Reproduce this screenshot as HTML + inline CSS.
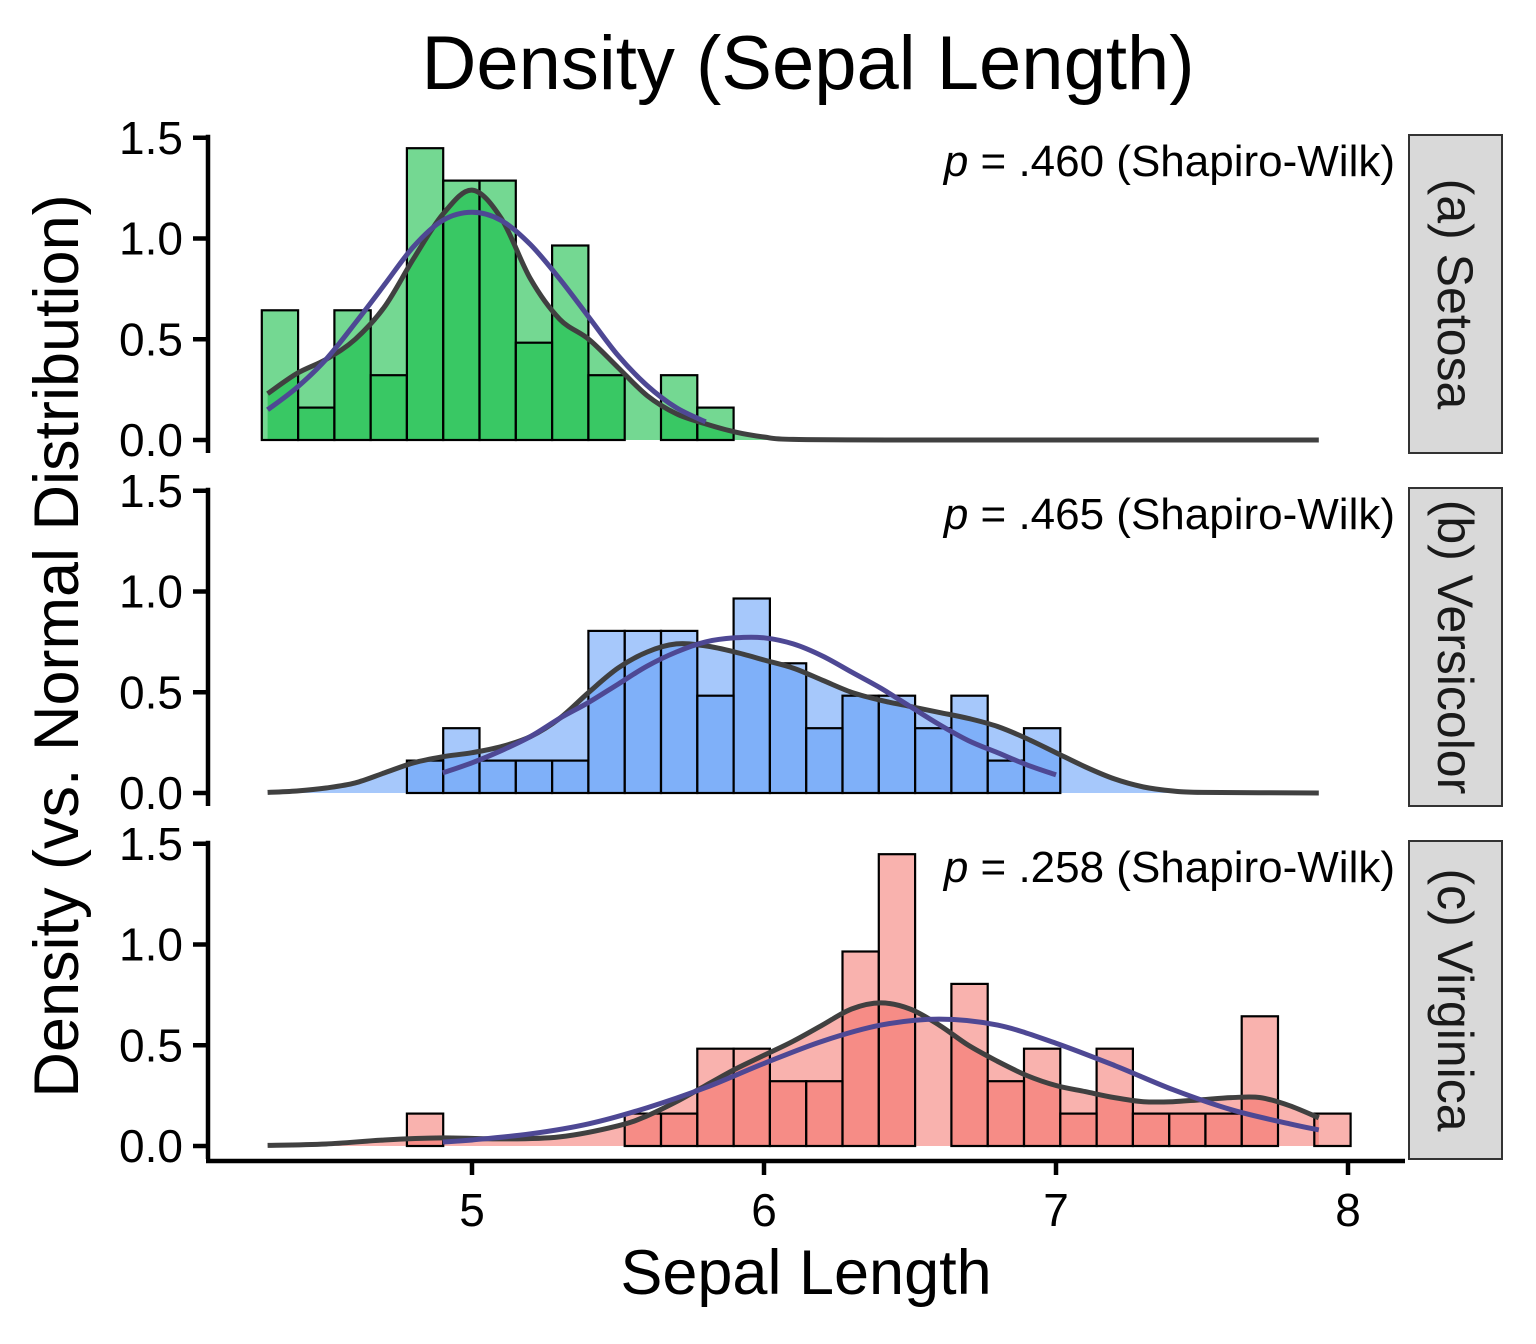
<!DOCTYPE html>
<html><head><meta charset="utf-8"><style>
html,body{margin:0;padding:0;background:#fff;}
svg{display:block;font-family:"Liberation Sans",Arial,sans-serif;}
</style></head><body>
<svg id="chart" width="1536" height="1344" viewBox="0 0 1536 1344">
<text x="808" y="89" font-size="76" text-anchor="middle">Density (Sepal Length)</text>
<text transform="translate(78,646) rotate(-90)" font-size="63" text-anchor="middle">Density (vs. Normal Distribution)</text>
<text x="806" y="1294" font-size="63" text-anchor="middle">Sepal Length</text>
<g id="plots"></g>
</svg>
<script>
// shared bins
const binStart = 4.28;
const binWidth = 0.1243;
const nObs = 50;
const xTicks = [5, 6, 7, 8];
const yTicks = [0, 0.5, 1.0, 1.5];
const yTickLabels = ["0.0", "0.5", "1.0", "1.5"];
const panelNames = ["(a) Setosa", "(b) Versicolor", "(c) Virginica"];
const pLabels = [".460", ".465", ".258"];
// counts per bin (30 bins)
const countsA = [4,1,4,2,9,8,8,3,6,2,0,2,1,0,0,0,0,0,0,0,0,0,0,0,0,0,0,0,0,0];
const countsB = [0,0,0,0,1,2,1,1,1,5,5,5,3,6,4,2,3,3,2,3,1,2,0,0,0,0,0,0,0,0];
const countsC = [0,0,0,0,1,0,0,0,0,0,1,1,3,3,2,2,6,9,0,5,2,3,1,3,1,1,1,4,0,1];
// KDE curves
const kdeXA = [4.3,4.4,4.5,4.6,4.7,4.8,4.9,5.0,5.1,5.2,5.3,5.4,5.5,5.6,5.7,5.8,5.9,6.0,6.1,6.5,7.0,7.5,7.9];
const kdeYA = [0.23,0.33,0.40,0.50,0.66,0.90,1.12,1.24,1.10,0.80,0.60,0.50,0.36,0.22,0.13,0.08,0.04,0.015,0.003,0,0,0,0];
const kdeXB = [4.3,4.4,4.5,4.6,4.7,4.8,4.9,5.0,5.1,5.2,5.3,5.4,5.5,5.6,5.7,5.8,5.9,6.0,6.1,6.2,6.3,6.4,6.5,6.6,6.7,6.8,6.9,7.0,7.1,7.2,7.3,7.4,7.5,7.9];
const kdeYB = [0.003,0.01,0.025,0.05,0.1,0.15,0.18,0.2,0.23,0.28,0.37,0.5,0.62,0.7,0.74,0.73,0.7,0.66,0.62,0.56,0.5,0.46,0.43,0.4,0.37,0.33,0.27,0.2,0.13,0.07,0.03,0.01,0.003,0];
const kdeXC = [4.3,4.5,4.7,4.9,5.1,5.3,5.5,5.6,5.7,5.8,5.9,6.0,6.1,6.2,6.3,6.4,6.5,6.6,6.7,6.8,6.9,7.0,7.1,7.2,7.3,7.4,7.5,7.6,7.7,7.8,7.9];
const kdeYC = [0.003,0.01,0.03,0.04,0.035,0.045,0.1,0.15,0.22,0.3,0.38,0.45,0.52,0.6,0.68,0.71,0.68,0.6,0.5,0.42,0.35,0.3,0.27,0.24,0.22,0.22,0.23,0.24,0.24,0.2,0.14];
// Normal curves
const normXA = [4.3,4.4,4.5,4.6,4.7,4.8,4.9,5.0,5.1,5.2,5.3,5.4,5.5,5.6,5.7,5.8];
const normYA = [0.15,0.26,0.40,0.58,0.77,0.96,1.09,1.13,1.09,0.97,0.80,0.61,0.42,0.27,0.16,0.09];
const normXB = [4.9,5.0,5.1,5.2,5.3,5.4,5.5,5.6,5.7,5.8,5.9,6.0,6.1,6.2,6.3,6.4,6.5,6.6,6.7,6.8,6.9,7.0];
const normYB = [0.10,0.15,0.21,0.28,0.37,0.45,0.54,0.63,0.70,0.75,0.77,0.77,0.74,0.68,0.60,0.52,0.43,0.34,0.26,0.20,0.14,0.09];
const normXC = [4.9,5.0,5.2,5.4,5.6,5.8,6.0,6.2,6.4,6.6,6.8,7.0,7.2,7.4,7.6,7.8,7.9];
const normYC = [0.02,0.03,0.06,0.11,0.19,0.29,0.41,0.52,0.60,0.63,0.60,0.51,0.40,0.28,0.18,0.11,0.08];

const NS = "http://www.w3.org/2000/svg";
const root = document.getElementById("plots");
function x(v){ return 472 + (v - 5) * 292; }
const panelZero = [440, 793, 1146];
const yScale = 201.5;
function mk(tag, attrs, parent){
  const e = document.createElementNS(NS, tag);
  for (const k in attrs) e.setAttribute(k, attrs[k]);
  parent.appendChild(e);
  return e;
}
function smooth(pts){
  let d = "M" + pts[0][0].toFixed(1) + "," + pts[0][1].toFixed(1);
  for (let i = 0; i < pts.length - 1; i++) {
    const p0 = pts[Math.max(0, i - 1)], p1 = pts[i], p2 = pts[i + 1], p3 = pts[Math.min(pts.length - 1, i + 2)];
    const c1x = p1[0] + (p2[0] - p0[0]) / 6, c1y = p1[1] + (p2[1] - p0[1]) / 6;
    const c2x = p2[0] - (p3[0] - p1[0]) / 6, c2y = p2[1] - (p3[1] - p1[1]) / 6;
    d += " C" + c1x.toFixed(1) + "," + c1y.toFixed(1) + " " + c2x.toFixed(1) + "," + c2y.toFixed(1) + " " + p2[0].toFixed(1) + "," + p2[1].toFixed(1);
  }
  return d;
}
const counts = [countsA, countsB, countsC];
const kdeX = [kdeXA, kdeXB, kdeXC], kdeY = [kdeYA, kdeYB, kdeYC];
const normX = [normXA, normXB, normXC], normY = [normYA, normYB, normYC];
const fills = ["rgba(15,187,68,0.58)", "rgba(99,159,248,0.57)", "rgba(243,104,96,0.51)"];
const keys = ["setosa", "versicolor", "virginica"];

for (let p = 0; p < 3; p++) {
  const z = panelZero[p];
  const y = v => z - v * yScale;
  const g = mk("g", {}, root);
  
  
  const kpts = kdeX[p].map((v, i) => [x(v), y(kdeY[p][i])]);
  const npts = normX[p].map((v, i) => [x(v), y(normY[p][i])]);
  const last = kdeX[p][kdeX[p].length - 1];
  const ad = smooth(kpts) + " L" + x(last) + "," + z + " L" + x(kdeX[p][0]) + "," + z + " Z";
  const area = mk("path", {d: ad, fill: fills[p], stroke: "none"}, g);
  
  
  counts[p].forEach((c, i) => {
    const h = c / (nObs * binWidth);
    const x0 = x(binStart + i * binWidth), x1 = x(binStart + (i + 1) * binWidth);
    const r = mk("rect", {x: x0.toFixed(1), y: y(h).toFixed(1), width: (x1 - x0).toFixed(1), height: (h * yScale).toFixed(1), fill: fills[p], stroke: "#000", "stroke-width": 2.2}, g);
    
    
  });
  const kl = mk("path", {d: smooth(kpts), fill: "none", stroke: "#404040", "stroke-width": 5, "stroke-linejoin": "round"}, g);
  
  
  const nl = mk("path", {d: smooth(npts), fill: "none", stroke: "#4e4894", "stroke-width": 5, "stroke-linejoin": "round"}, g);
  
  
  const ax = mk("line", {x1: 208, x2: 208, y1: y(1.5) - 3, y2: z + 13, stroke: "#000", "stroke-width": 4.5}, g);
  
  
  yTicks.forEach((t, i) => {
    const tl = mk("line", {x1: 193, x2: 208, y1: y(t), y2: y(t), stroke: "#000", "stroke-width": 4.5}, g);
    
    
    const tx = mk("text", {x: 183, y: y(t) + 16, "font-size": 46, "text-anchor": "end"}, g);
    tx.textContent = yTickLabels[i];
    
    
  });
  const pt = mk("text", {x: 1395, y: z - 264, "font-size": 44, "text-anchor": "end"}, g);
  pt.innerHTML = '<tspan font-style="italic">p</tspan> = ' + pLabels[p] + ' (Shapiro-Wilk)';
  
  
  const top = z - 305;
  const sr = mk("rect", {x: 1409, y: top, width: 93, height: 318, fill: "#d9d9d9", stroke: "#333", "stroke-width": 2}, g);
  
  
  const st = mk("text", {transform: "translate(1438," + (top + 159) + ") rotate(90)", "font-size": 50, "text-anchor": "middle", fill: "#1a1a1a"}, g);
  st.textContent = panelNames[p];
  
  
}
const xa = mk("line", {x1: 206, x2: 1405, y1: 1161, y2: 1161, stroke: "#000", "stroke-width": 4.5}, root);


xTicks.forEach(t => {
  const tl = mk("line", {x1: x(t), x2: x(t), y1: 1161, y2: 1175, stroke: "#000", "stroke-width": 4.5}, root);
  
  
  const tx = mk("text", {x: x(t), y: 1226, "font-size": 46, "text-anchor": "middle"}, root);
  tx.textContent = t;
  
  
});
</script>
</body></html>
